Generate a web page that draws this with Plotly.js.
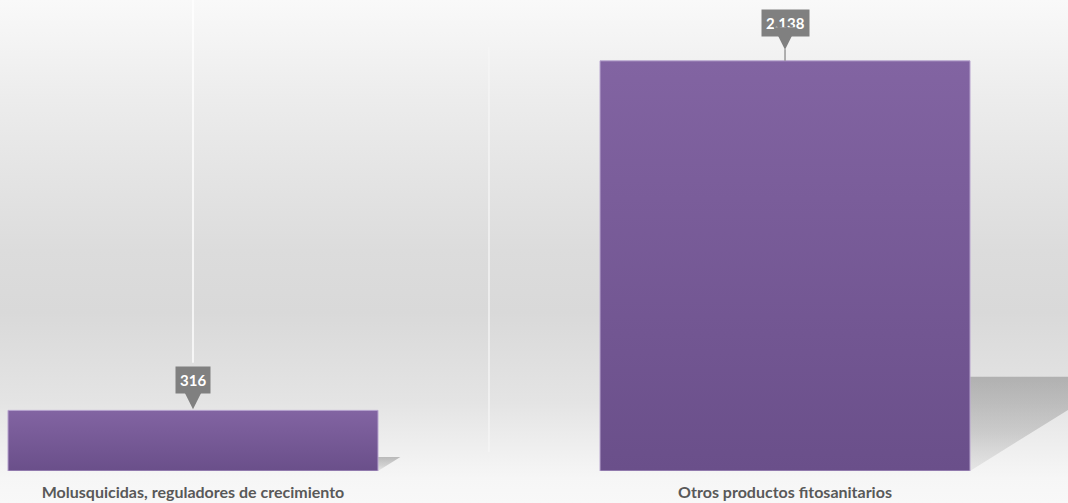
<!DOCTYPE html>
<html><head><meta charset="utf-8">
<script src="https://cdn.plot.ly/plotly-3.0.1.min.js"></script>
<style>
html,body{margin:0;padding:0;}
body{width:1068px;height:503px;background:linear-gradient(to bottom,#f9f9f9 0%,#ececec 20%,#dcdcdc 50%,#d9d9d9 62%,#e4e4e4 80%,#f6f6f6 95%,#f8f8f8 100%);}
#chart{width:1068px;height:503px;}
</style></head><body>
<div id="chart"></div>
<script>
const categories = ["Molusquicidas, reguladores de crecimiento", "Otros productos fitosanitarios"];
const values = [316, 2138];

function fmt(v){ return String(v).replace(/\B(?=(\d{3})+(?!\d))/g, '.'); }

const halfBar = 0.3125;
const trace = {
  type: 'bar', x: [0, 1], y: values, width: halfBar * 2,
  marker: {color: '#7a5c9c', line: {color: '#b9a6d0', width: 1}},
  hoverinfo: 'skip'
};

const annotations = values.map((v, i) => ({
  x: i, y: v, xref: 'x', yref: 'y',
  text: '<b>' + fmt(v) + '</b>',
  font: {family: 'Lato, "Open Sans", sans-serif', size: 15, color: '#ffffff'},
  bgcolor: '#808080', borderpad: 4,
  showarrow: true, arrowhead: 2, arrowsize: 0.9, arrowwidth: 5, arrowcolor: '#808080',
  ax: 0, ay: i === 1 ? -38 : -30, standoff: i === 1 ? 11 : 1
}));

// perspective shadows to the right of each bar, derived from bar values
const shadows = values.map((v, i) => {
  const R = i + halfBar, h = v * 0.23, d = h * 0.00052;
  return {type: 'path', xref: 'x', yref: 'y', layer: 'below',
    path: `M${R},0 L${R},${h} L${R + d},${h} Z`,
    fillcolor: 'rgba(110,110,110,0.3)', line: {width: 0}};
});

const layout = {
  width: 1068, height: 503,
  margin: {l: 0, r: 0, t: 0, b: 32},
  paper_bgcolor: 'rgba(0,0,0,0)', plot_bgcolor: 'rgba(0,0,0,0)',
  showlegend: false,
  xaxis: {
    range: [-0.326, 1.478], tickvals: [0, 1], ticktext: categories,
    showgrid: false, zeroline: false, showline: false,
    ticks: 'outside', ticklen: 7, tickcolor: 'rgba(0,0,0,0)',
    tickfont: {family: 'Lato, "Open Sans", sans-serif', size: 16, color: '#595959', weight: 'bold'}
  },
  yaxis: {range: [0, 2455], visible: false, showgrid: false, zeroline: false},
  annotations: annotations,
  shapes: [
    {type: 'line', xref: 'x', yref: 'paper', x0: 0, x1: 0, y0: 0.23, y1: 1.0, line: {color: 'rgba(255,255,255,0.95)', width: 1.5}, layer: 'below'},
    {type: 'line', xref: 'x', yref: 'paper', x0: 0.5, x1: 0.5, y0: 0.04, y1: 0.9, line: {color: 'rgba(245,245,245,0.9)', width: 1.5}, layer: 'below'},
    {type: 'line', xref: 'x', yref: 'y', x0: 1, x1: 1, y0: values[1], y1: values[1] + 60, line: {color: '#808080', width: 1.2}}
  ].concat(shadows)
};

Plotly.newPlot('chart', [trace], layout, {displayModeBar: false, staticPlot: true}).then(gd => {
  const svg = gd.querySelector('svg.main-svg');
  const ns = 'http://www.w3.org/2000/svg';
  const defs = svg.querySelector('defs');
  function grad(id, stops){
    const lg = document.createElementNS(ns, 'linearGradient');
    lg.setAttribute('id', id);
    lg.setAttribute('x1', '0'); lg.setAttribute('y1', '0'); lg.setAttribute('x2', '0'); lg.setAttribute('y2', '1');
    stops.forEach(([o, c, a]) => {
      const s = document.createElementNS(ns, 'stop');
      s.setAttribute('offset', o); s.setAttribute('stop-color', c); s.setAttribute('stop-opacity', a);
      lg.appendChild(s);
    });
    defs.appendChild(lg);
  }
  grad('barGrad', [['0', '#8264a2', 1], ['1', '#6a4f8a', 1]]);
  grad('shadowGrad', [['0', '#6e6e6e', 0.42], ['0.6', '#808080', 0.3], ['1', '#a0a0a0', 0.18]]);
  gd.querySelectorAll('.bars .point path').forEach(p => { p.style.fill = 'url(#barGrad)'; });
  const firstShadow = 3;
  gd.querySelectorAll('.shapelayer path').forEach(p => {
    const idx = +p.getAttribute('data-index');
    if (idx >= firstShadow) { p.style.fill = 'url(#shadowGrad)'; p.style.fillOpacity = 1; }
  });
});
</script>
</body></html>
